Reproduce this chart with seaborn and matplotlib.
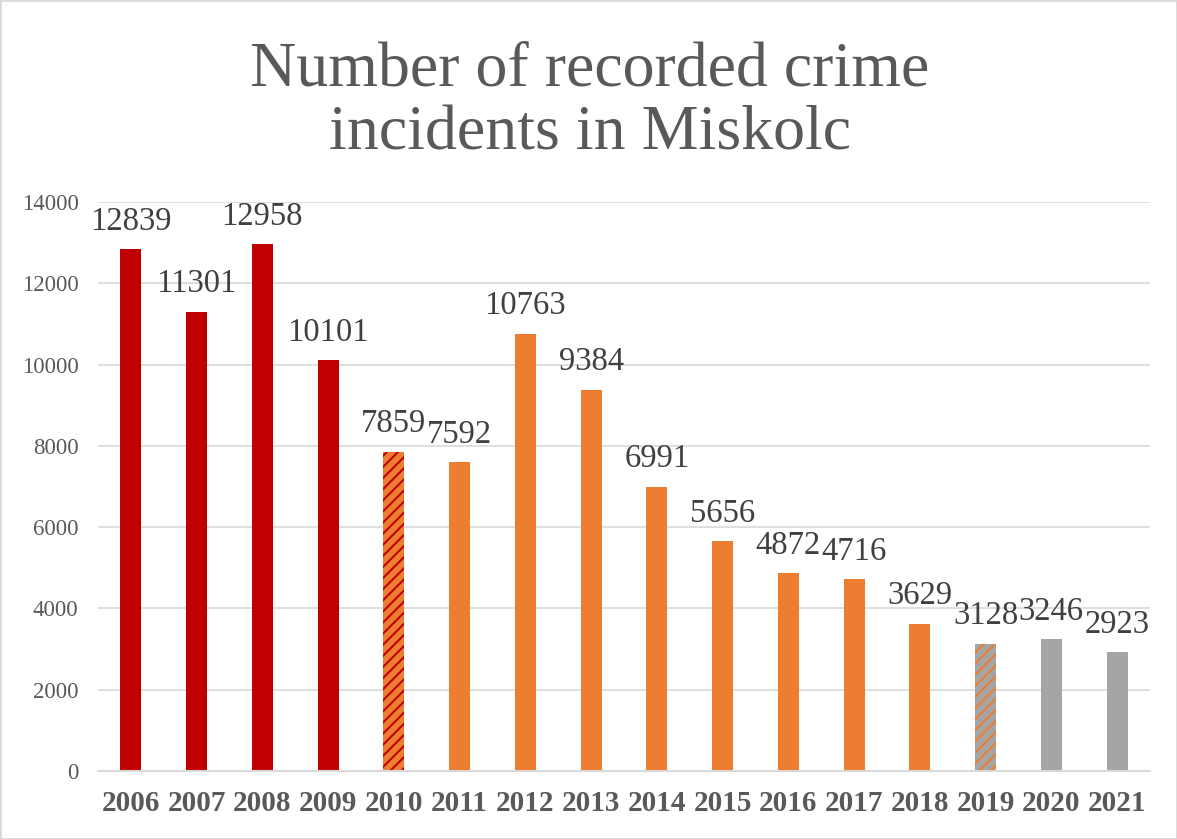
import matplotlib
matplotlib.use("Agg")
import matplotlib.pyplot as plt
import seaborn as sns
import pandas as pd

years = ["2006", "2007", "2008", "2009", "2010", "2011", "2012", "2013",
         "2014", "2015", "2016", "2017", "2018", "2019", "2020", "2021"]
crimes = [12839, 11301, 12958, 10101, 7859, 7592, 10763, 9384,
          6991, 5656, 4872, 4716, 3629, 3128, 3246, 2923]
groups = ["red", "red", "red", "red", "red-orange", "orange", "orange", "orange",
          "orange", "orange", "orange", "orange", "orange", "orange-gray", "gray", "gray"]
title = "Number of recorded crime\nincidents in Miskolc"

RED, ORANGE, GRAY = "#C00000", "#ED7D31", "#A5A5A5"
fill_map = {"red": RED, "red-orange": RED, "orange": ORANGE, "orange-gray": ORANGE, "gray": GRAY}
hatch_map = {"red-orange": ORANGE, "orange-gray": GRAY}

SERIF = ["Liberation Serif", "DejaVu Serif"]
sns.set_theme(style="white")
plt.rcParams["font.family"] = SERIF
plt.rcParams["hatch.linewidth"] = 4.2

df = pd.DataFrame({"year": years, "crimes": crimes})

fig = plt.figure(figsize=(11.77, 8.39), dpi=100)
ax = fig.add_axes([98 / 1177, 1 - 771 / 839, (1150 - 98) / 1177, (771 - 202) / 839])

palette = {y: fill_map[g] for y, g in zip(years, groups)}
sns.barplot(data=df, x="year", y="crimes", hue="year", palette=palette,
            width=0.32, legend=False, ax=ax, saturation=1)

for patch, g in zip(ax.patches, groups):
    patch.set_linewidth(0)
    if g in hatch_map:
        patch.set_hatch("///")
        patch.set_edgecolor(hatch_map[g])

for i, v in enumerate(crimes):
    ax.annotate(str(v), (i, v), xytext=(0, 14), textcoords="offset points",
                ha="center", va="baseline", fontsize=23.5, color="#404040",
                family=SERIF)

ax.set_ylim(0, 14000)
ax.set_xlim(-0.5, 15.5)
ax.set_yticks(range(0, 14001, 2000))
ax.yaxis.grid(True, color="#D9D9D9", linewidth=1.2)
ax.set_axisbelow(True)
for s in ["top", "right", "left"]:
    ax.spines[s].set_visible(False)
ax.spines["bottom"].set_color("#D9D9D9")
ax.spines["bottom"].set_linewidth(1.5)
ax.set_xlabel("")
ax.set_ylabel("")
ax.tick_params(axis="y", length=0, pad=14, labelsize=16.5, labelcolor="#595959")
ax.tick_params(axis="x", length=0, pad=14, labelsize=21, labelcolor="#595959")
for lab in ax.get_xticklabels() + ax.get_yticklabels():
    lab.set_family(SERIF)
for lab in ax.get_xticklabels():
    lab.set_fontweight("bold")

fig.text(0.501, 1 - 42 / 839, title, ha="center", va="top", fontsize=46,
         color="#595959", linespacing=1.12, family=SERIF)

fig.patches.append(plt.Rectangle((0, 0), 1, 1, transform=fig.transFigure,
                                 fill=False, edgecolor="#D9D9D9", linewidth=2))

fig.savefig("out.png", dpi=100, facecolor="white")
